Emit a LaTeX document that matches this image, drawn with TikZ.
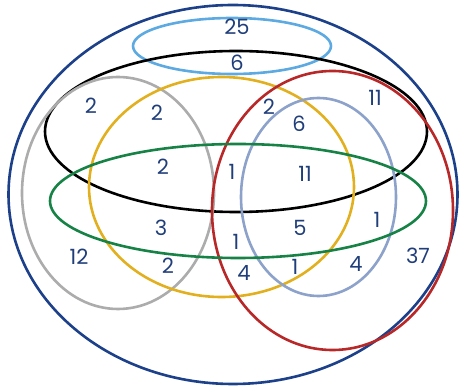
\documentclass[tikz,border=0pt]{standalone}
\usepackage{fontspec}
\setmainfont{Poppins}
\definecolor{outerblue}{RGB}{28,64,138}
\definecolor{lightblue}{RGB}{92,170,225}
\definecolor{greyc}{RGB}{172,172,172}
\definecolor{yellowc}{RGB}{226,176,30}
\definecolor{redc}{RGB}{184,40,40}
\definecolor{bluegrey}{RGB}{140,162,202}
\definecolor{greenc}{RGB}{22,130,70}
\definecolor{numc}{RGB}{32,62,122}
\begin{document}
\begin{tikzpicture}[x=1pt,y=-1pt,
  set/.style={line width=2.6pt},
  num/.style={text=numc,font=\fontsize{21}{21}\selectfont,inner sep=0pt}]
\useasboundingbox (0,0) rectangle (461,387);
\draw[set,outerblue] (233,194.5) ellipse [x radius=224.5, y radius=189.5];
\draw[set,lightblue] (232,46) ellipse [x radius=99, y radius=28];
\draw[set,black] (236,131.5) ellipse [x radius=191, y radius=80.5];
\draw[set,greyc] (118,193) ellipse [x radius=96, y radius=116];
\draw[set,yellowc] (221.5,187) ellipse [x radius=132.5, y radius=110];
\draw[set,redc] (332.5,210.5) ellipse [x radius=120.5, y radius=139.5];
\draw[set,bluegrey] (318.5,197) ellipse [x radius=77.5, y radius=99];
\draw[set,greenc] (238,201) ellipse [x radius=188, y radius=57];
\node[num] (n25) at (237,27) {25};
\node[num] (n6a) at (237,63) {6};
\node[num] (n2a) at (91,106) {2};
\node[num] (n2b) at (157,113) {2};
\node[num] (n2c) at (269,107) {2};
\node[num] (n6b) at (299,124) {6};
\node[num] (n11a) at (375,98) {11};
\node[num] (n2d) at (163,167) {2};
\node[num] (n1a) at (232,172) {1};
\node[num] (n11b) at (305,174) {11};
\node[num] (n3) at (161,228) {3};
\node[num] (n5) at (300,228) {5};
\node[num] (n1b) at (377,220) {1};
\node[num] (n1c) at (236,242) {1};
\node[num] (n12) at (79,257) {12};
\node[num] (n2e) at (168,266) {2};
\node[num] (n4a) at (244,273) {4};
\node[num] (n1d) at (295,267) {1};
\node[num] (n4b) at (356,264) {4};
\node[num] (n37) at (418,256) {37};
\end{tikzpicture}
\end{document}
